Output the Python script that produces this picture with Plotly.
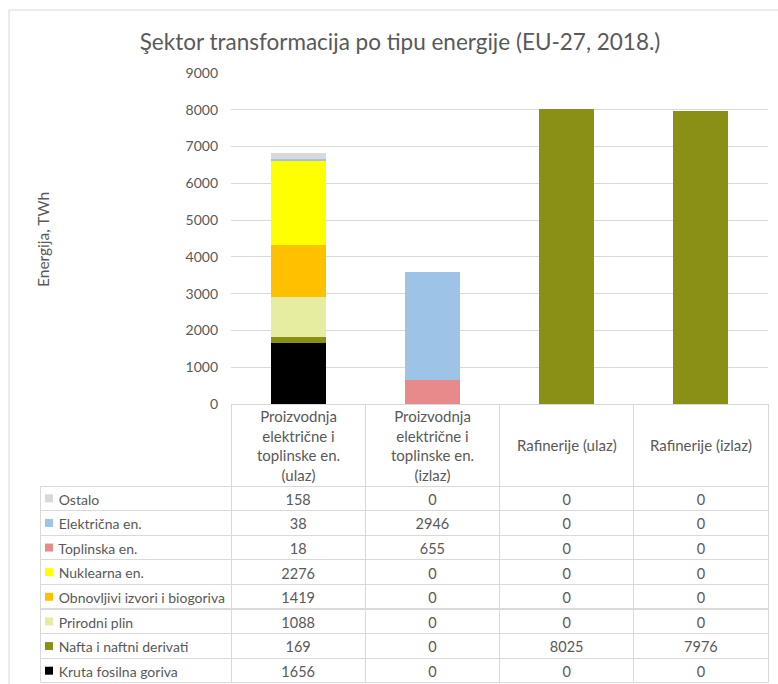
import plotly.graph_objects as go

W, H = 778, 684

# categories (columns of the data table)
category_keys = ["ee_in", "ee_out", "raf_in", "raf_out"]
category_labels = [
    "Proizvodnja<br>električne i<br>toplinske en.<br>(ulaz)",
    "Proizvodnja<br>električne i<br>toplinske en.<br>(izlaz)",
    "Rafinerije (ulaz)",
    "Rafinerije (izlaz)",
]

# series, bottom of the stack first
series_names = [
    "Kruta fosilna goriva",
    "Nafta i naftni derivati",
    "Prirodni plin",
    "Obnovljivi izvori i biogoriva",
    "Nuklearna en.",
    "Toplinska en.",
    "Električna en.",
    "Ostalo",
]
kruta = [1656, 0, 0, 0]
nafta = [169, 0, 8025, 7976]
plin = [1088, 0, 0, 0]
obnovljivi = [1419, 0, 0, 0]
nuklearna = [2276, 0, 0, 0]
toplinska = [18, 655, 0, 0]
elektricna = [38, 2946, 0, 0]
ostalo = [158, 0, 0, 0]
series_values = [kruta, nafta, plin, obnovljivi, nuklearna, toplinska, elektricna, ostalo]

colors = ["#000000", "#8a8f16", "#e6eca0", "#ffc000", "#ffff00",
          "#e8898b", "#9dc3e6", "#d9d9d9"]

grey = "#595959"
line_grey = "#d9d9d9"
font = "Lato"
nb = "\u00a0"

fig = go.Figure()
for name, vals, col in zip(series_names, series_values, colors):
    fig.add_trace(go.Bar(x=category_keys, y=vals, name=name,
                         marker_color=col, marker_line_width=0,
                         showlegend=False))

# data table, top row = last series
rows = list(range(len(series_names)))[::-1]
first_col = [nb * 3 + series_names[i].replace(" ", nb) for i in rows]
table_cols = [first_col]
for c in range(len(category_keys)):
    table_cols.append([str(series_values[i][c]) for i in rows])

clear = "rgba(0,0,0,0)"
fig.add_trace(go.Table(
    domain=dict(x=[40 / W, 768 / W], y=[1 / H, 280 / H]),
    columnwidth=[191, 134.25, 134.25, 134.25, 134.25],
    header=dict(values=[""] * 5, height=82,
                line=dict(color=[clear] + [line_grey] * 4, width=1),
                fill=dict(color=[clear] + ["white"] * 4)),
    cells=dict(values=table_cols, height=24.6,
               align=["left", "center", "center", "center", "center"],
               line=dict(color=line_grey, width=1),
               fill=dict(color=[clear] + ["white"] * 4),
               font=dict(family=font, size=[14, 14.5, 14.5, 14.5, 14.5], color=grey)),
))

# legend keys in the first table column
fig.add_trace(go.Scatter(
    x=[9] * len(series_names), y=list(range(len(series_names))),
    mode="markers", xaxis="x2", yaxis="y2", showlegend=False,
    marker=dict(symbol="square", size=8, color=colors, line_width=0),
    hoverinfo="skip",
))

for key, lab in zip(category_keys, category_labels):
    fig.add_annotation(x=key, xref="x", y=(H - 445) / H, yref="paper",
                       text=lab, showarrow=False, xanchor="center", yanchor="middle",
                       font=dict(family=font, size=15, color=grey))

fig.add_annotation(x=43 / W, y=(H - 240) / H, xref="paper", yref="paper",
                   text="Energija, TWh", textangle=-90, showarrow=False,
                   xanchor="center", yanchor="middle",
                   font=dict(family=font, size=15.5, color=grey))

# outer chart frame
fig.add_shape(type="rect", xref="paper", yref="paper",
              x0=9 / W, x1=1.05, y0=-0.05, y1=(H - 10) / H,
              line=dict(color=line_grey, width=1))

fig.update_layout(
    width=W, height=H,
    margin=dict(l=0, r=0, t=0, b=0, autoexpand=False),
    paper_bgcolor="white", plot_bgcolor="white",
    barmode="stack", bargap=0.59,
    title=dict(text="Şektor transformacija po tipu energije (EU-27, 2018.)",
               x=400 / W, y=(H - 42) / H, xanchor="center", yanchor="middle",
               font=dict(family=font, size=22.5, color=grey)),
    xaxis=dict(domain=[231 / W, 768 / W], range=[-0.5, 3.5], automargin=False,
               showticklabels=False, showgrid=False, zeroline=False),
    yaxis=dict(domain=[280 / H, 611 / H], range=[0, 9000], dtick=1000,
               automargin=False,
               showgrid=True, gridcolor=line_grey, zeroline=False,
               ticklabelstandoff=12,
               tickfont=dict(family=font, size=14, color=grey)),
    xaxis2=dict(domain=[40 / W, 231 / W], range=[0, 191], anchor="y2",
                visible=False, fixedrange=True),
    yaxis2=dict(domain=[1 / H, 198 / H], range=[-0.5, 7.5], anchor="x2",
                visible=False, fixedrange=True),
)

fig.write_html("out.html", config={"displayModeBar": False},
               post_script="document.body.style.margin='0';")
